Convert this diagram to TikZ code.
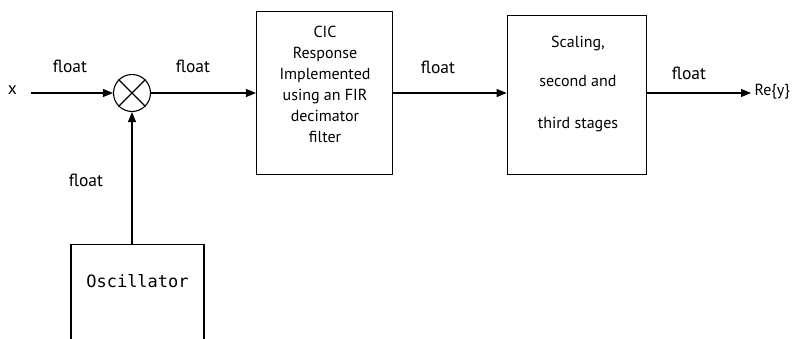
\documentclass[tikz,border=0pt]{standalone}
\usepackage{fontspec}
\setmainfont{PT Sans}
\newfontfamily\monofont{DejaVu Sans Mono}
\usetikzlibrary{arrows.meta}
\begin{document}
\begin{tikzpicture}[x=1pt,y=-1pt,
  line width=1.1pt,
  lbl/.style={font=\fontsize{16}{18}\selectfont, inner sep=0pt},
  flt/.style={font=\fontsize{17.5}{19}\selectfont, inner sep=0pt},
  blk/.style={draw, line width=1.1pt, inner sep=0pt},
  sig/.style={draw, -{Triangle[length=10pt,width=8pt]}}
]
\useasboundingbox (0,0) rectangle (800,338);
\clip (0,0) rectangle (800,338);
% mixer
\node[draw, circle, minimum size=37pt, inner sep=0pt] (mix) at (132,93) {};
\draw (mix.north west) -- (mix.south east) (mix.north east) -- (mix.south west);
% blocks
\node[blk, minimum width=136pt, minimum height=163pt] (cic) at (324.5,93) {};
\node[lbl, align=center, font=\fontsize{16}{21}\selectfont] (cictxt) at (325,84.5) {CIC\\Response\\Implemented\\using an FIR\\decimator\\filter};
\node[blk, minimum width=139.5pt, minimum height=158.5pt] (scl) at (577,95) {};
\node[lbl] (s1) at (578,43) {Scaling,};
\node[lbl] (s2) at (578,81) {second and};
\node[lbl] (s3) at (578,125) {third stages};
\node[blk, minimum width=133pt, minimum height=130pt, anchor=north] (osc) at (137.5,244) {};
\node[inner sep=0pt, font=\monofont\fontsize{17}{19}\selectfont] (osctxt) at (137.5,281) {Oscillator};
% terminals
\node[flt] (x) at (12.5,90) {x};
\node[lbl, anchor=west] (re) at (754,92) {Re\{y\}};
\coordinate (xin) at (31,93);
\coordinate (out) at (751,93);
% connectors
\draw[sig] (xin) -- (mix.west);
\draw[sig] (mix.east) -- (cic.west |- mix.east);
\draw[sig] (cic.east |- mix.east) -- (scl.west |- mix.east);
\draw[sig] (scl.east |- mix.east) -- (out);
\draw[sig] (osc.north -| mix.south) -- (mix.south);
% labels
\node[flt] (f1) at (70,66) {float};
\node[flt] (f2) at (193,66) {float};
\node[flt] (f3) at (438,67) {float};
\node[flt] (f4) at (689,73) {float};
\node[flt] (f5) at (86,180) {float};
\end{tikzpicture}
\end{document}
